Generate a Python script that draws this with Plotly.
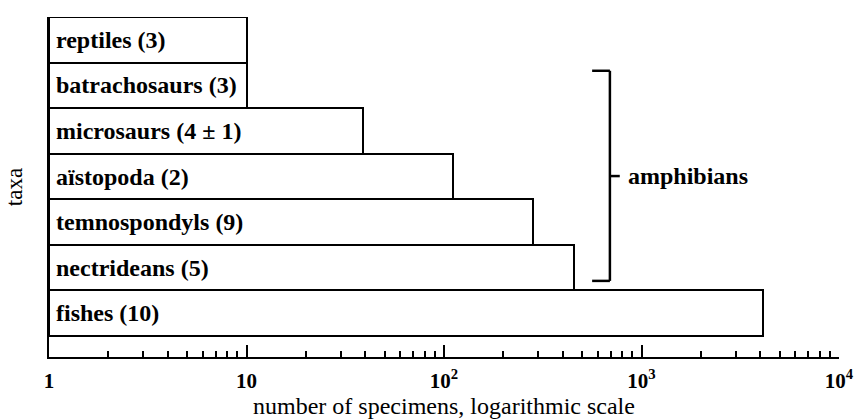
import plotly.graph_objects as go

# ---- data ----
taxa = ["reptiles", "batrachosaurs", "microsaurs", "aïstopoda",
        "temnospondyls", "nectrideans", "fishes"]
genera = ["3", "3", "4 ± 1", "2", "9", "5", "10"]
specimens = [10, 10, 39, 111, 283, 457, 4100]

major_ticks = [1, 10, 100, 1000, 10000]
major_labels = ["1", "10", "10<sup>2</sup>", "10<sup>3</sup>", "10<sup>4</sup>"]
minor_ticks = [m * 10 ** k for k in range(4) for m in range(2, 10)]

group_label = "amphibians"
group_span = (0.68, 5.29)      # category-index span of the bracket
group_mid = 2.99

SERIF = "Liberation Serif"

fig = go.Figure()
fig.add_trace(go.Bar(
    y=taxa,
    x=[s - 1 for s in specimens],
    base=1,
    orientation="h",
    width=1,
    marker=dict(color="white", line=dict(color="black", width=2)),
    hoverinfo="skip",
    showlegend=False,
))

# labels inside bars
for name, g in zip(taxa, genera):
    fig.add_annotation(
        x=0, y=name, xref="x", yref="y",
        text=f"{name} ({g})", showarrow=False,
        xanchor="left", yanchor="middle", xshift=5,
        font=dict(family=SERIF, size=24, color="black", weight="bold"),
    )

# bracket for amphibians (shape x in data values)
bx, bserif, btick = 10 ** 2.84, 10 ** 2.75, 10 ** 2.89
lw = dict(color="black", width=2.5)
fig.add_shape(type="line", xref="x", yref="y", x0=bx, x1=bx,
              y0=group_span[0], y1=group_span[1], line=lw)
fig.add_shape(type="line", xref="x", yref="y", x0=bserif, x1=bx,
              y0=group_span[0], y1=group_span[0], line=lw)
fig.add_shape(type="line", xref="x", yref="y", x0=bserif, x1=bx,
              y0=group_span[1], y1=group_span[1], line=lw)
fig.add_shape(type="line", xref="x", yref="y", x0=bx, x1=btick,
              y0=group_mid, y1=group_mid, line=lw)
fig.add_annotation(x=2.92, y=group_mid, xref="x", yref="y",
                   text=group_label, showarrow=False,
                   xanchor="left", yanchor="middle",
                   font=dict(family=SERIF, size=24, color="black", weight="bold"))

fig.update_layout(
    width=861, height=419,
    margin=dict(l=49, r=22, t=17, b=62),
    paper_bgcolor="white", plot_bgcolor="white",
    bargap=0,
    xaxis=dict(
        type="log", range=[0, 4],
        showline=True, linecolor="black", linewidth=2,
        showgrid=False, zeroline=False,
        ticks="inside", ticklen=12, tickwidth=2, tickcolor="black",
        tickvals=major_ticks, ticktext=major_labels,
        tickfont=dict(family=SERIF, size=21, color="black", weight="bold"),
        ticklabelstandoff=4,
        minor=dict(ticks="inside", ticklen=6, tickwidth=2, tickcolor="black",
                   tickvals=minor_ticks, showgrid=False),
        title=dict(text="number of specimens, logarithmic scale",
                   font=dict(family=SERIF, size=24, color="black"),
                   standoff=6),
        automargin=False,
    ),
    yaxis=dict(
        type="category", categoryarray=taxa,
        range=[6.96, -0.5],
        showline=True, linecolor="black", linewidth=2,
        showgrid=False, zeroline=False,
        ticks="", showticklabels=False,
        title=dict(text="taxa", font=dict(family=SERIF, size=23, color="black"),
                   standoff=18),
        automargin=False,
    ),
)

fig.write_html("out.html", config={"displayModeBar": False},
               post_script="document.body.style.margin='0';document.body.style.overflow='hidden';")
